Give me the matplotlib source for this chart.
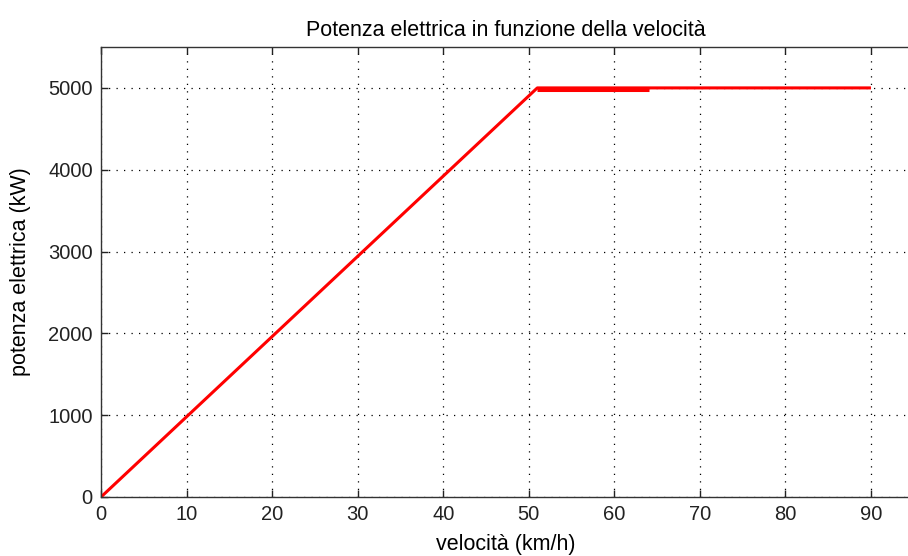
import matplotlib
matplotlib.use("Agg")
from matplotlib import pyplot as plt

# speed (km/h) vs electric power (kW)
velocita = [0, 51, 90]
potenza = [0, 5000, 5000]
# short overlapping stretch on the plateau
velocita_b = [51, 64]
potenza_b = [4978, 4978]

xticks = [0, 10, 20, 30, 40, 50, 60, 70, 80, 90]
yticks = [0, 1000, 2000, 3000, 4000, 5000]

plt.rcParams['font.family'] = ['Liberation Sans', 'DejaVu Sans']

fig = plt.figure(figsize=(9.08, 5.56), dpi=100)
ax = fig.add_axes([101 / 908, 59 / 556, 855.5 / 908, 450 / 556])

ax.plot(velocita, potenza, color='red', linewidth=2.2, solid_capstyle='butt')
ax.plot(velocita_b, potenza_b, color='red', linewidth=2.2, solid_capstyle='butt')

ax.set_xlim(0, 100)
ax.set_ylim(0, 5500)
ax.set_xticks(xticks)
ax.set_yticks(yticks)

ax.grid(True, color='black', linestyle=(0, (1, 5)), linewidth=0.9)
ax.tick_params(direction='in', length=5, width=1, top=True, right=True,
               labelsize=14.5, colors='#222222', pad=6)
for s in ax.spines.values():
    s.set_color('#333333')
    s.set_linewidth(1)

ax.set_title('Potenza elettrica in funzione della velocità', fontsize=15.5,
             pad=8, x=0.473)
ax.set_xlabel('velocità (km/h)', fontsize=15.5)
ax.xaxis.set_label_coords(0.473, -0.083)
ax.set_ylabel('potenza elettrica (kW)', fontsize=15.5)
ax.yaxis.set_label_coords(-0.082, 0.5)

fig.savefig('out.png', dpi=100)
